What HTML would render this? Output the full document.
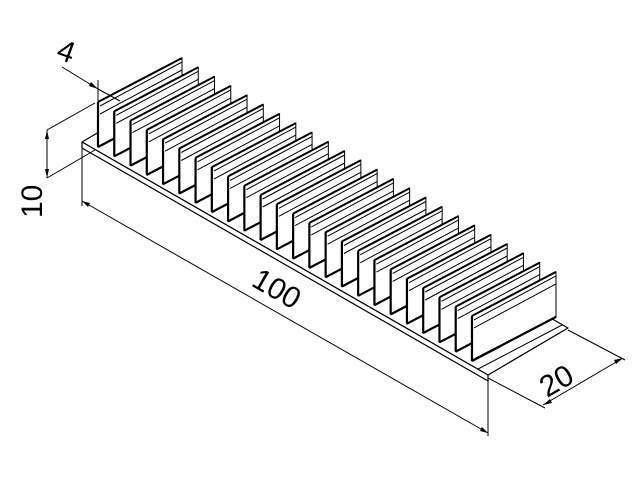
<!DOCTYPE html>
<html><head><style>body{margin:0;background:#fff}svg{display:block}</style></head><body>
<svg width="640" height="480" viewBox="0 0 640 480" xmlns="http://www.w3.org/2000/svg" xmlns:xlink="http://www.w3.org/1999/xlink" font-family="'Liberation Sans', sans-serif">
<defs>
<g id="fin" stroke="#000" fill="#fff">
<polygon points="98,102 182,58 182,103 98,147" stroke-width="1"/>
<line x1="98" y1="102" x2="98" y2="147" stroke-width="2.2"/>
<line x1="98" y1="102" x2="182" y2="58" stroke-width="2"/>
<line x1="100" y1="106" x2="182" y2="62" stroke-width="1"/>
<line x1="100" y1="114" x2="182" y2="70" stroke-width="1"/>
<line x1="98" y1="147" x2="127.4" y2="131.6" stroke-width="2.2"/>
</g>
</defs>
<g stroke="#000" fill="#fff" stroke-linejoin="round">
<polygon points="82,142 488,375 568,328 162,95" stroke-width="1.2"/>
<polygon points="82,142 488,375 488,381 82,148" stroke-width="1.2"/>
</g>
<use href="#fin" xlink:href="#fin" transform="translate(0,0)"/>
<use href="#fin" xlink:href="#fin" transform="translate(16.26,9.3)"/>
<use href="#fin" xlink:href="#fin" transform="translate(32.52,18.6)"/>
<use href="#fin" xlink:href="#fin" transform="translate(48.78,27.9)"/>
<use href="#fin" xlink:href="#fin" transform="translate(65.04,37.2)"/>
<use href="#fin" xlink:href="#fin" transform="translate(81.3,46.5)"/>
<use href="#fin" xlink:href="#fin" transform="translate(97.56,55.8)"/>
<use href="#fin" xlink:href="#fin" transform="translate(113.82,65.1)"/>
<use href="#fin" xlink:href="#fin" transform="translate(130.08,74.4)"/>
<use href="#fin" xlink:href="#fin" transform="translate(146.34,83.7)"/>
<use href="#fin" xlink:href="#fin" transform="translate(162.6,93)"/>
<use href="#fin" xlink:href="#fin" transform="translate(178.86,102.3)"/>
<use href="#fin" xlink:href="#fin" transform="translate(195.12,111.6)"/>
<use href="#fin" xlink:href="#fin" transform="translate(211.38,120.9)"/>
<use href="#fin" xlink:href="#fin" transform="translate(227.64,130.2)"/>
<use href="#fin" xlink:href="#fin" transform="translate(243.9,139.5)"/>
<use href="#fin" xlink:href="#fin" transform="translate(260.16,148.8)"/>
<use href="#fin" xlink:href="#fin" transform="translate(276.42,158.1)"/>
<use href="#fin" xlink:href="#fin" transform="translate(292.68,167.4)"/>
<use href="#fin" xlink:href="#fin" transform="translate(308.94,176.7)"/>
<use href="#fin" xlink:href="#fin" transform="translate(325.2,186)"/>
<use href="#fin" xlink:href="#fin" transform="translate(341.46,195.3)"/>
<use href="#fin" xlink:href="#fin" transform="translate(357.72,204.6)"/>
<use href="#fin" xlink:href="#fin" transform="translate(373.98,213.9)"/>
<g stroke="#000" fill="none">
<line x1="472" y1="360.9" x2="556" y2="316.9" stroke-width="2.2"/>
<line x1="478" y1="369" x2="562" y2="325" stroke-width="1"/>
</g>
<g stroke="#000" stroke-width="1" fill="none">
<line x1="62" y1="67" x2="98" y2="89"/>
<line x1="98" y1="89" x2="120" y2="101"/>
<line x1="98" y1="80" x2="98" y2="104"/>
<line x1="47" y1="130" x2="95" y2="103"/>
<line x1="47" y1="178" x2="95" y2="150"/>
<line x1="47" y1="130" x2="47" y2="178"/>
<line x1="82" y1="146" x2="82" y2="206"/>
<line x1="488" y1="380" x2="488" y2="436"/>
<line x1="82" y1="201" x2="488" y2="433"/>
<line x1="488" y1="378" x2="545" y2="408"/>
<line x1="568" y1="330" x2="625" y2="360"/>
<line x1="543" y1="405" x2="623" y2="358"/>
</g>
<g fill="#000">
<polygon points="98,89 89,86 91,82"/>
<polygon points="47,130 45,139 49,139"/>
<polygon points="47,178 45,169 49,169"/>
<polygon points="82,201 90,203 88,207"/>
<polygon points="488,433 480,431 482,427"/>
<polygon points="543,405 550,399 552,403"/>
<polygon points="623,358 616,364 614,360"/>
</g>
<g font-size="30" fill="#000">
<text transform="translate(55,58) rotate(20)">4</text>
<text transform="translate(42,218) rotate(-90)">10</text>
<text transform="translate(250,285) rotate(30)">100</text>
<text transform="translate(547,398) rotate(-30)">20</text>
</g>
</svg>
</body></html>
